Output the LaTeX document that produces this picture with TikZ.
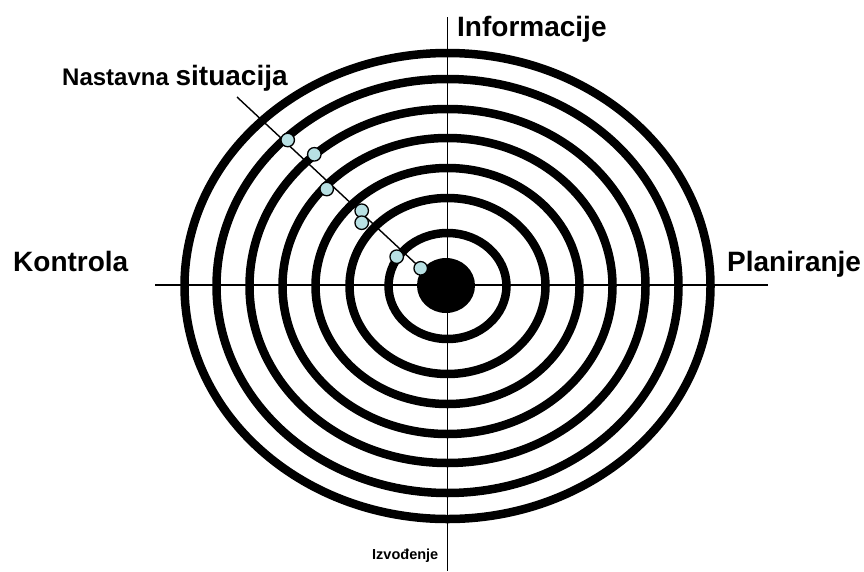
\documentclass[tikz,border=0pt]{standalone}
\usepackage{fontspec}
\setmainfont{Liberation Sans}[BoldFont={Liberation Sans Bold}]
\newfontfamily\lblfont{Liberation Sans Bold}
\definecolor{dotfill}{RGB}{184,224,227}
\begin{document}
\begin{tikzpicture}[x=1pt,y=-1pt,
  ring/.style={draw=black,line width=8.5pt},
  axis/.style={draw=black,line width=1.8pt},
  diag/.style={draw=black,line width=1.4pt},
  dot/.style={circle,draw=black,line width=1.3pt,fill=dotfill,minimum size=13.5pt,inner sep=0pt},
  lbl/.style={inner sep=0pt,anchor=base west,font=\lblfont\fontsize{28}{30}\selectfont}]
\useasboundingbox (0,0) rectangle (864,571);
\fill[white] (0,0) rectangle (864,571);
% rings
\foreach \rx/\ry in {59/53,98/88,132/118,165/148,198/177,231/207,263/233}
  \draw[ring] (447.5,286) ellipse [x radius=\rx, y radius=\ry];
% centre
\fill[black] (446,285.5) ellipse [x radius=29, y radius=27.5];
% axes
\coordinate (hl) at (155,285);
\coordinate (hr) at (768,285);
\coordinate (vt) at (447.5,17);
\coordinate (vb) at (447.5,571);
\draw[axis] (hl) -- (hr);
\draw[axis] (vt) -- (vb);
% diagonal with dots
\coordinate (ds) at (237,97);
\coordinate (p1) at (287.7,140);
\coordinate (p2) at (314.3,154.3);
\coordinate (p3) at (326.7,189);
\coordinate (p4) at (361.7,210.7);
\coordinate (p5) at (361.7,222.7);
\coordinate (p6) at (396.7,256.7);
\coordinate (p7) at (420.7,268.3);
\draw[diag] (ds) -- (p7);
\node[dot] (c1) at (p1) {};
\node[dot] (c2) at (p2) {};
\node[dot] (c3) at (p3) {};
\node[dot] (c4) at (p4) {};
\node[dot] (c5) at (p5) {};
\node[dot] (c6) at (p6) {};
\node[dot] (c7) at (p7) {};
% labels
\node[lbl] (inf) at (457,36.5) {Informacije};
\node[lbl] (kon) at (13,271.5) {Kontrola};
\node[lbl] (pla) at (727,271.5) {Planiranje};
\node[inner sep=0pt,anchor=base west,font=\lblfont] (nas) at (62,85) {\fontsize{24}{26}\selectfont Nastavna \fontsize{28}{30}\selectfont situacija};
\node[inner sep=0pt,anchor=base west,font=\lblfont\fontsize{14.5}{16}\selectfont] (izv) at (372,559) {Izvođenje};
\end{tikzpicture}
\end{document}
